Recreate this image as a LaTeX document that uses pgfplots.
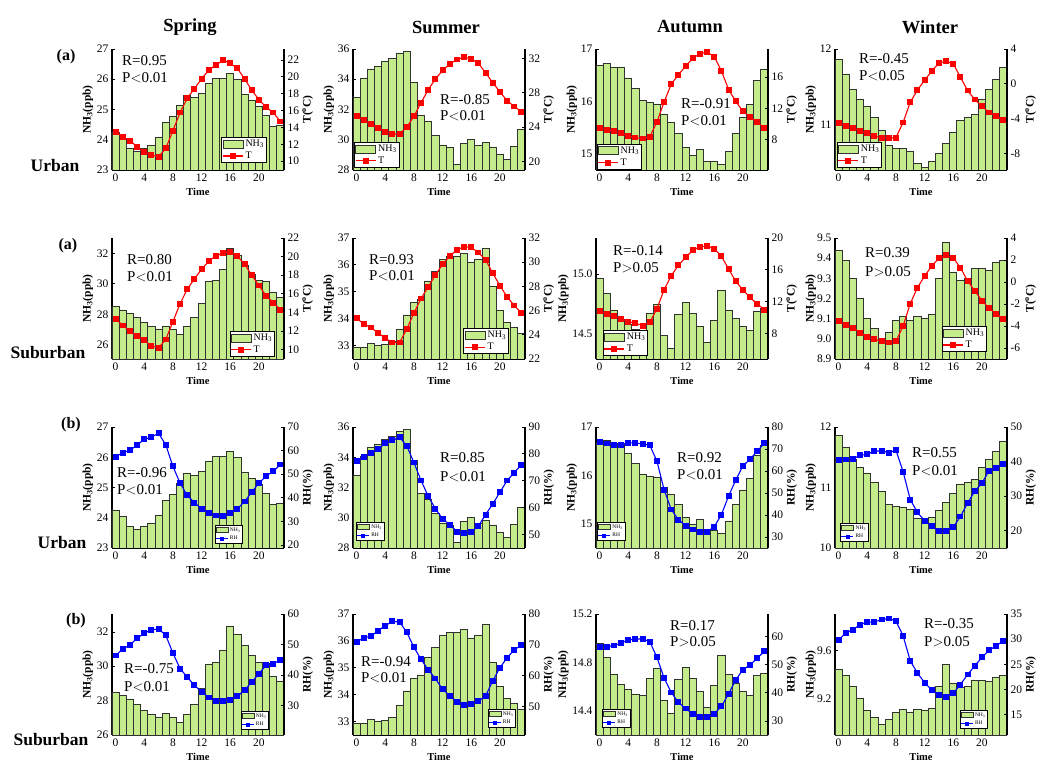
\documentclass[border=0pt]{standalone}
\usepackage{fontspec}
\setmainfont{Liberation Serif}
\usepackage{pgfplots}
\pgfplotsset{compat=1.18}
\usepackage{pgfplotstable}

\definecolor{barg}{RGB}{197,236,138}
\definecolor{bared}{RGB}{50,50,50}

\pgfplotstableread{
h SpU SuU AuU WiU SpS SuS AuS WiS
0 24.26 32.80 16.69 11.86 28.49 32.95 14.96 9.44
1 24.05 34.09 16.72 11.67 28.29 32.95 14.84 9.39
2 23.70 34.68 16.65 11.46 28.09 33.09 14.70 9.30
3 23.60 34.86 16.66 11.34 27.78 33.01 14.62 9.20
4 23.72 35.20 16.45 11.24 27.44 33.05 14.58 9.10
5 23.82 35.40 16.25 11.09 27.18 33.14 14.54 9.05
6 24.08 35.74 16.03 10.93 27.04 33.62 14.53 8.99
7 24.56 35.82 15.99 10.72 27.24 34.14 14.67 9.03
8 24.77 33.80 15.95 10.69 27.00 34.61 14.75 9.09
9 25.14 31.60 15.75 10.68 26.70 34.73 14.49 9.11
10 25.48 31.22 15.60 10.64 27.20 35.39 14.38 9.09
11 25.40 30.28 15.40 10.49 27.78 35.76 14.66 9.11
12 25.53 29.66 15.13 10.43 28.71 36.20 14.76 9.10
13 25.87 29.49 14.98 10.51 30.13 36.32 14.67 9.12
14 26.02 28.39 15.09 10.62 30.24 36.32 14.56 9.30
15 26.03 29.77 14.87 10.75 30.93 36.42 14.43 9.48
16 26.20 30.01 14.87 10.90 32.33 36.11 14.61 9.33
17 25.99 29.62 14.81 11.06 31.84 36.20 14.86 9.29
18 25.50 29.82 15.06 11.09 31.20 36.63 14.70 9.30
19 25.30 29.53 15.40 11.13 30.62 35.20 14.63 9.35
20 25.11 29.03 15.70 11.33 30.20 34.31 14.56 9.35
21 24.80 28.72 15.94 11.46 30.16 33.87 14.53 9.34
22 24.45 29.55 16.41 11.60 29.42 33.68 14.69 9.38
23 24.47 30.69 16.62 11.76 29.11 33.46 14.71 9.39
}\tabN

\pgfplotstableread{
h TSpU TSuU TAuU TWiU TSpS TSuS TAuS TWiS
0 13.5 25.26 9.49 -4.5 13.3 25.36 10.84 -3.57
1 12.86 24.8 9.23 -4.8 12.6 24.9 10.5 -3.9
2 12.43 24.36 9.06 -5.07 12.0 24.6 10.17 -4.15
3 11.7 23.94 8.85 -5.4 11.5 24.16 9.84 -4.6
4 11.1 23.47 8.47 -5.7 11.0 23.72 9.5 -5.0
5 10.75 23.2 8.26 -6.0 10.4 23.36 9.3 -5.2
6 10.5 23.2 8.13 -6.2 10.2 23.36 9.0 -5.4
7 11.5 23.98 8.34 -6.2 11.1 24.47 9.4 -5.5
8 13.6 25.26 10.25 -6.2 13.0 25.8 11.1 -5.4
9 15.76 26.84 12.8 -4.44 14.95 27.0 13.5 -4.0
10 17.45 28.36 15.1 -2.1 16.5 27.97 15.27 -1.97
11 18.6 29.6 16.3 -0.73 17.6 28.94 16.57 -0.52
12 19.76 30.6 17.4 0.42 18.65 29.83 17.57 0.54
13 20.8 31.34 18.4 1.45 19.5 30.5 18.45 1.45
14 21.4 31.88 19.0 2.4 20.1 31.03 18.9 2.17
15 21.96 32.15 19.2 2.6 20.4 31.28 19.0 2.42
16 21.6 31.96 18.6 2.3 20.5 31.22 18.66 2.2
17 21.0 31.42 16.8 0.77 20.05 30.8 17.7 1.3
18 19.76 30.33 14.4 -0.77 19.2 30.2 16.1 0.1
19 18.4 29.17 12.9 -1.8 18.0 29.1 14.56 -0.8
20 17.3 28.12 11.6 -2.57 16.9 28.06 13.47 -1.7
21 16.4 27.07 10.9 -3.3 15.8 27.14 12.55 -2.36
22 15.76 26.4 10.2 -3.7 15.05 26.42 11.7 -2.88
23 14.7 25.8 9.5 -4.2 14.3 25.8 11.0 -3.36
}\tabT

\pgfplotstableread{
h RSpU RSuU RAuU RWiU RSpS RSuS RAuS RWiS
0 57.4 77.3 73.1 40.5 46.4 70.9 56.2 29.9
1 59.1 79.0 72.5 40.6 48.5 72.3 56.4 31.2
2 60.1 80.3 71.8 40.8 49.9 72.8 56.8 31.9
3 62.35 81.8 71.9 41.8 52.0 74.6 57.7 32.9
4 64.76 83.9 72.8 42.1 53.7 76.2 58.8 33.4
5 65.75 85.0 72.8 43.0 54.8 77.6 59.1 33.4
6 67.3 86.2 72.2 43.1 55.1 77.4 59.1 33.9
7 62.5 83.0 71.8 42.6 53.0 74.1 58.2 34.1
8 53.3 76.8 64.5 43.3 47.2 69.2 52.6 33.6
9 46.2 70.1 51.5 37.1 42.1 65.3 45.3 30.7
10 41.0 64.2 42.5 29.0 39.3 61.9 40.1 25.7
11 37.9 59.6 37.9 25.3 36.6 59.1 36.6 23.3
12 35.3 55.8 35.2 22.9 34.5 55.6 34.4 21.4
13 33.6 53.7 33.4 21.3 32.6 53.5 32.5 19.9
14 32.5 51.1 32.4 19.8 31.5 51.5 31.5 18.9
15 32.1 50.6 32.4 20.0 31.5 50.5 31.5 18.6
16 33.6 51.0 34.6 21.0 31.8 50.9 32.5 19.3
17 35.3 53.2 40.2 24.1 33.0 51.7 35.2 21.0
18 38.4 57.4 48.6 28.0 35.0 53.5 39.6 23.0
19 42.4 61.4 55.9 31.4 37.7 58.3 44.6 24.7
20 46.2 65.7 62.3 33.8 40.4 62.6 48.2 26.4
21 49.2 70.1 65.4 37.3 43.2 65.8 49.9 27.8
22 51.2 73.0 69.0 38.2 43.7 68.4 52.3 28.7
23 54.1 76.0 72.7 39.2 44.9 69.9 54.8 29.7
}\tabR

\pgfplotsset{
  pan/.style={scale only axis, width=172pt, height=121pt, anchor=north west,
    xmin=-0.5, xmax=23.5, clip=true,
    tick label style={font=\fontsize{11.5}{12}\selectfont},
    /pgf/number format/assume math mode=true,
    scaled y ticks=false,
    tick align=inside, major tick length=3pt,
    axis line style={line width=1.3pt, black},
    every tick/.style={black, line width=0.8pt},
    label style={font=\bfseries\fontsize{11.5}{12}\selectfont},
  },
  lft/.style={pan, axis y line*=left, axis x line*=bottom,
    xtick={0,4,8,12,16,20}, xlabel={Time},
    xlabel style={font=\bfseries\fontsize{10.5}{11}\selectfont},
    ylabel={NH\textsubscript{3}(ppb)},
    ylabel style={at={(axis description cs:-0.14,0.5)}, anchor=center}},
  rgt/.style={pan, axis y line*=right, hide x axis,
    ylabel style={at={(axis description cs:1.138,0.5)}, anchor=center}},
  bigleg/.style={legend style={font=\fontsize{10}{10}\selectfont, draw=black, line width=1pt, fill=white, inner sep=0.5pt, row sep=0pt, nodes={inner sep=2pt}, cells={anchor=west}},
    legend image code/.code={\draw[mark repeat=2,mark phase=2,##1] plot coordinates {(0pt,0pt)(10pt,0pt)(20pt,0pt)};}},
  smallleg/.style={legend style={font=\fontsize{5.5}{6}\selectfont, draw=black, line width=0.8pt, fill=white, inner sep=0.5pt, row sep=0pt, nodes={inner sep=1.8pt}, cells={anchor=west}},
    legend image code/.code={\draw[mark repeat=2,mark phase=2,##1, mark size=1.5pt, line width=0.7pt] plot coordinates {(0pt,0pt)(6pt,0pt)(12pt,0pt)};}},
  rT/.style={rgt, ylabel={T(\textsuperscript{o}C)}, bigleg},
  rR/.style={rgt, ylabel={RH(\%)}, smallleg},
  barst/.style={ybar, bar shift=0pt, bar width=1, fill=barg, draw=bared, line width=0.7pt},
  barB/.style={legend image code/.code={\draw[fill=barg,draw=bared,line width=0.6pt] (0pt,-4pt) rectangle (20pt,4pt);}},
  barS/.style={legend image code/.code={\draw[fill=barg,draw=bared,line width=0.4pt] (0pt,-2.5pt) rectangle (12pt,2.5pt);}},
  redl/.style={color=red, line width=1.1pt, mark=square*, mark size=2.4pt, mark options={solid, fill=red}},
  bluel/.style={color=blue, line width=1.1pt, mark=square*, mark size=2.4pt, mark options={solid, fill=blue}},
  zf/.style={yticklabel style={/pgf/number format/.cd, fixed, fixed zerofill, precision=1}},
  wide/.style={ylabel style={at={(axis description cs:-0.19,0.5)}}},
}

\newcommand{\pnlT}[8]{%
\begin{axis}[lft, at={(#1pt,-#2pt)}, #3]
\addplot[barst] table[x=h,y=#4]{\tabN};
\end{axis}
\begin{axis}[rT, at={(#1pt,-#2pt)}, #5, legend style={at={(#7)}, anchor=#8}]
\addlegendimage{barB}\addlegendentry{NH\textsubscript{3}}
\addplot[redl] table[x=h,y=#6]{\tabT};\addlegendentry{T}
\end{axis}}

\newcommand{\pnlR}[8]{%
\begin{axis}[lft, at={(#1pt,-#2pt)}, #3]
\addplot[barst] table[x=h,y=#4]{\tabN};
\end{axis}
\begin{axis}[rR, at={(#1pt,-#2pt)}, #5, legend style={at={(#7)}, anchor=#8}]
\addlegendimage{barS}\addlegendentry{NH\textsubscript{3}}
\addplot[bluel] table[x=h,y=#6]{\tabR};\addlegendentry{RH}
\end{axis}}

\tikzset{rt/.style={font=\fontsize{15}{16}\selectfont, inner sep=0pt, anchor=west},
  ttl/.style={font=\bfseries\fontsize{18.5}{20}\selectfont, inner sep=0pt},
  rowl/.style={font=\bfseries\fontsize{17.5}{19}\selectfont, inner sep=0pt},
  abl/.style={font=\bfseries\fontsize{16}{18}\selectfont, inner sep=0pt}}

\begin{document}
\begin{tikzpicture}
\useasboundingbox (0,0) rectangle (1037pt,-767pt);

% Row 1: Urban T
\pnlT{112}{49}{ymin=23,ymax=27,ytick={23,24,25,26,27}}{SpU}{ymin=8.94,ymax=23.3,ytick={10,12,...,22}}{TSpU}{0.901,0.058}{south east}
\pnlT{353}{49}{ymin=28,ymax=36,ytick={28,30,...,36}}{SuU}{ymin=19,ymax=33.1,ytick={20,24,28,32}}{TSuU}{0.006,0.017}{south west}
\pnlT{596}{49}{ymin=14.7,ymax=17,ytick={15,16,17}}{AuU}{ymin=4.1,ymax=19.6,ytick={8,12,16}}{TAuU}{0.003,0.003}{south west}
\pnlT{835}{49}{ymin=10.4,ymax=12,ytick={11,12}}{WiU}{ymin=-9.9,ymax=4,ytick={-8,-4,0,4}}{TWiU}{0.01,0.017}{south west}

% Row 2: Suburban T
\pnlT{112}{238}{ymin=25.07,ymax=33,ytick={26,28,30,32}}{SpS}{ymin=9,ymax=22,ytick={10,12,...,22}}{TSpS}{0.948,0.017}{south east}
\pnlT{353}{238}{ymin=32.5,ymax=37,ytick={33,34,35,36,37}}{SuS}{ymin=22,ymax=32,ytick={22,24,...,32}}{TSuS}{0.907,0.04}{south east}
\pnlT{596}{238}{ymin=14.29,ymax=15.3,ytick={14.5,15},zf,wide}{AuS}{ymin=4.8,ymax=20,ytick={8,12,16,20}}{TAuS}{0.04,0.025}{south west}
\pnlT{835}{238}{ymin=8.9,ymax=9.5,ytick={8.9,9,9.1,9.2,9.3,9.4,9.5},zf}{WiS}{ymin=-7,ymax=4,ytick={-6,-4,...,4}}{TWiS}{0.884,0.058}{south east}

% Row 3: Urban RH
\pnlR{112}{427}{ymin=23,ymax=27,ytick={23,24,25,26,27}}{SpU}{ymin=18.7,ymax=70,ytick={20,30,...,70}}{RSpU}{0.762,0.033}{south east}
\pnlR{353}{427}{ymin=28,ymax=36,ytick={28,30,...,36}}{SuU}{ymin=45,ymax=90,ytick={50,60,...,90}}{RSuU}{0.017,0.058}{south west}
\pnlR{596}{427}{ymin=14.5,ymax=17,ytick={15,16,17}}{AuU}{ymin=25,ymax=80,ytick={30,40,...,80}}{RAuU}{0.006,0.058}{south west}
\pnlR{835}{427}{ymin=10,ymax=12,ytick={10,11,12}}{WiU}{ymin=15,ymax=50,ytick={20,30,40,50}}{RWiU}{0.03,0.05}{south west}

% Row 4: Suburban RH
\pnlR{112}{614}{ymin=25.98,ymax=33.05,ytick={26,28,30,32}}{SpS}{ymin=20.3,ymax=60,ytick={30,40,50,60}}{RSpS}{0.913,0.041}{south east}
\pnlR{353}{614}{ymin=32.5,ymax=37,ytick={33,34,35,36,37}}{SuS}{ymin=40.8,ymax=80,ytick={50,60,70,80}}{RSuS}{0.948,0.058}{south east}
\pnlR{596}{614}{ymin=14.2,ymax=15.2,ytick={14.4,14.8,15.2},zf,wide}{AuS}{ymin=25,ymax=68,ytick={30,40,50,60}}{RAuS}{0.035,0.058}{south west}
\pnlR{835}{614}{ymin=8.9,ymax=9.9,ytick={9.2,9.6},zf}{WiS}{ymin=11,ymax=35,ytick={15,20,...,35}}{RWiS}{0.89,0.05}{south east}

% Titles
\node[ttl] at (190pt,-27pt) {Spring};
\node[ttl] at (446pt,-27pt) {Summer};
\node[ttl] at (690pt,-27pt) {Autumn};
\node[ttl] at (930pt,-27pt) {Winter};

% Row labels
\node[abl] at (66pt,-57pt) {(a)};
\node[abl] at (68pt,-246pt) {(a)};
\node[abl] at (71pt,-425pt) {(b)};
\node[abl] at (76pt,-621pt) {(b)};
\node[rowl] at (55pt,-166pt) {Urban};
\node[rowl] at (48pt,-353pt) {Suburban};
\node[rowl] at (62pt,-543pt) {Urban};
\node[rowl] at (51pt,-740pt) {Suburban};

% R and P texts
\node[rt] at (122pt,-61pt) {R=0.95};  \node[rt] at (122pt,-78pt) {P$<$0.01};
\node[rt] at (440pt,-100pt) {R=-0.85}; \node[rt] at (440pt,-116pt) {P$<$0.01};
\node[rt] at (681pt,-104pt) {R=-0.91}; \node[rt] at (681pt,-121pt) {P$<$0.01};
\node[rt] at (859pt,-59pt) {R=-0.45};  \node[rt] at (859pt,-76pt) {P$<$0.05};
\node[rt] at (127pt,-260pt) {R=0.80};  \node[rt] at (127pt,-277pt) {P$<$0.01};
\node[rt] at (369pt,-260pt) {R=0.93};  \node[rt] at (369pt,-276pt) {P$<$0.01};
\node[rt] at (613pt,-251pt) {R=-0.14}; \node[rt] at (613pt,-268pt) {P$>$0.05};
\node[rt] at (865pt,-253pt) {R=0.39};  \node[rt] at (865pt,-272pt) {P$>$0.05};
\node[rt] at (117pt,-473pt) {R=-0.96}; \node[rt] at (117pt,-490pt) {P$<$0.01};
\node[rt] at (440pt,-458pt) {R=0.85};  \node[rt] at (440pt,-477pt) {P$<$0.01};
\node[rt] at (677pt,-458pt) {R=0.92};  \node[rt] at (677pt,-475pt) {P$<$0.01};
\node[rt] at (912pt,-453pt) {R=0.55};  \node[rt] at (912pt,-471pt) {P$<$0.01};
\node[rt] at (124pt,-669pt) {R=-0.75}; \node[rt] at (124pt,-687pt) {P$<$0.01};
\node[rt] at (361pt,-662pt) {R=-0.94}; \node[rt] at (361pt,-678pt) {P$<$0.01};
\node[rt] at (670pt,-626pt) {R=0.17};  \node[rt] at (670pt,-642pt) {P$>$0.05};
\node[rt] at (924pt,-624pt) {R=-0.35}; \node[rt] at (924pt,-642pt) {P$>$0.05};
\end{tikzpicture}
\end{document}
